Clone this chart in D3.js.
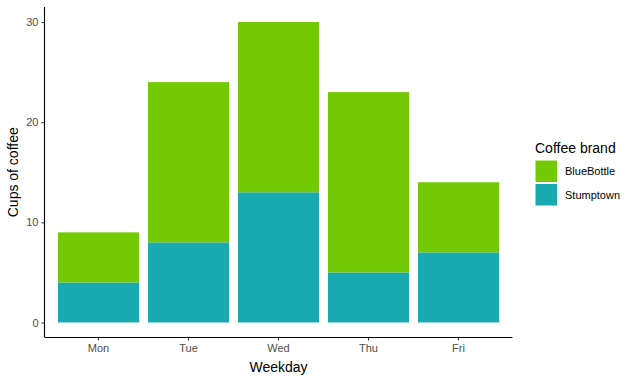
<!DOCTYPE html>
<html><head><meta charset="utf-8">
<script src="https://cdn.jsdelivr.net/npm/d3@7"></script>
<style>body{margin:0;background:#fff}svg{display:block;font-family:"Liberation Sans",Arial,sans-serif}</style>
</head><body><svg id="c" width="638" height="381"></svg>
<script>
const weekdays = ["Mon","Tue","Wed","Thu","Fri"];
const stumptown = [4, 8, 13, 5, 7];
const blueBottle = [5, 16, 17, 18, 7];
const brands = ["BlueBottle","Stumptown"];
const colors = ["#74C905","#19AAB1"];
const yTicks = [0,10,20,30];

const svg = d3.select("#c");
const L = 44.5, R = 512.5, T = 7, B = 337.5;
const x = d3.scaleBand().domain(weekdays).range([L, R]).paddingInner(0.1).paddingOuter(0.15);
const y = d3.scaleLinear().domain([-1.5, 31.5]).range([B, T]);

const data = weekdays.map((d,i)=>({day:d, Stumptown:stumptown[i], BlueBottle:blueBottle[i]}));
const stack = d3.stack().keys(["Stumptown","BlueBottle"])(data);
const colorOf = {BlueBottle:colors[0], Stumptown:colors[1]};

stack.forEach(s=>{
  svg.append("g").selectAll("rect").data(s).join("rect")
    .attr("x", d=>x(d.data.day))
    .attr("width", x.bandwidth())
    .attr("y", d=>y(d[1]))
    .attr("height", d=>y(d[0])-y(d[1]))
    .attr("fill", colorOf[s.key]);
});

// y axis
const ya = svg.append("g").attr("transform",`translate(${L},0)`)
  .call(d3.axisLeft(y).tickValues(yTicks).tickSize(3).tickPadding(3));
ya.select(".domain").attr("d",`M0,${T}V${B}`).attr("stroke","#000").attr("stroke-width",1.1);
ya.selectAll(".tick line").attr("stroke","#333").attr("stroke-width",1.1);
ya.selectAll(".tick text").attr("fill","#4d4d4d").style("font-size","11px");

// x axis
const xa = svg.append("g").attr("transform",`translate(0,${B})`)
  .call(d3.axisBottom(x).tickSize(3).tickPadding(4));
xa.select(".domain").attr("d",`M${L},0H${R}`).attr("stroke","#000").attr("stroke-width",1.1);
xa.selectAll(".tick line").attr("stroke","#333").attr("stroke-width",1.1);
xa.selectAll(".tick text").attr("fill","#4d4d4d").style("font-size","11px");

// titles
svg.append("text").attr("x",(L+R)/2).attr("y",372).attr("text-anchor","middle")
  .style("font-size","14px").attr("fill","#000").text("Weekday");
svg.append("text").attr("transform",`translate(18,${(T+B)/2}) rotate(-90)`).attr("text-anchor","middle")
  .style("font-size","14px").attr("fill","#000").text("Cups of coffee");

// legend
const lg = svg.append("g").attr("transform","translate(535,0)");
lg.append("text").attr("x",0).attr("y",153).style("font-size","14px").attr("fill","#000").text("Coffee brand");
brands.forEach((b,i)=>{
  lg.append("rect").attr("x",0.5).attr("y",160.5+i*23.5).attr("width",21.5).attr("height",21.5).attr("fill",colors[i]);
  lg.append("text").attr("x",30).attr("y",175+i*23.5).style("font-size","11px").attr("fill","#000").text(b);
});
</script></body></html>
